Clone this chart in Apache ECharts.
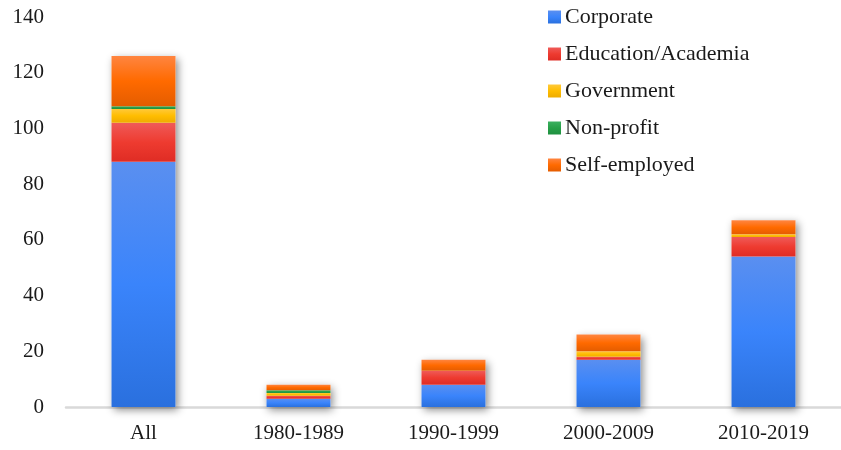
<!DOCTYPE html>
<html>
<head>
<meta charset="utf-8">
<script src="https://cdn.jsdelivr.net/npm/echarts@6/dist/echarts.min.js"></script>
<style>
html,body{margin:0;padding:0;background:#fff;}
#chart{width:841px;height:450px;}
</style>
</head>
<body>
<div id="chart"></div>
<script>
var categories=["All","1980-1989","1990-1999","2000-2009","2010-2019"];
var corporate=[88,3,8,17,54];
var education=[14,1,5,1,7];
var government=[5,1,0,2,1];
var nonprofit=[1,1,0,0,0];
var selfEmployed=[18,2,4,6,5];
var yTicks=[0,20,40,60,80,100,120,140];

var totals=categories.map(function(c,i){
    return corporate[i]+education[i]+government[i]+nonprofit[i]+selfEmployed[i];
});

var grad=function(top,mid,bottom){
    return new echarts.graphic.LinearGradient(0,0,0,1,[
        {offset:0,color:top},{offset:0.5,color:mid},{offset:1,color:bottom}
    ]);
};
var font="'Liberation Serif', 'DejaVu Serif', serif";

var chart=echarts.init(document.getElementById("chart"));
var mk=function(name,data,color){
    return {
        name:name,
        type:"bar",
        stack:"total",
        barWidth:64,
        z:3,
        data:data,
        itemStyle:{color:color}
    };
};
var option={
    animation:false,
    textStyle:{fontFamily:font},
    legend:{
        orient:"vertical",
        left:543,
        top:1,
        itemWidth:13,
        itemHeight:13,
        itemGap:15,
        icon:"rect",
        data:["Corporate","Education/Academia","Government","Non-profit","Self-employed"],
        textStyle:{fontFamily:font,fontSize:22,color:"#1a1a1a",padding:[0,0,0,-1]}
    },
    grid:{left:66,width:781,top:17,bottom:43,containLabel:false},
    xAxis:{
        type:"category",
        data:categories,
        axisLine:{lineStyle:{color:"#d9d9d9",width:2.5}},
        axisTick:{show:false},
        axisLabel:{fontFamily:font,fontSize:21,color:"#1a1a1a",margin:16}
    },
    yAxis:{
        type:"value",
        min:0,max:140,interval:20,
        axisLine:{show:false},
        axisTick:{show:false},
        splitLine:{show:false},
        axisLabel:{fontFamily:font,fontSize:21,color:"#1a1a1a",margin:22,
            formatter:function(v){return yTicks.indexOf(v)>=0?String(v):"";}}
    },
    series:[
        {
            name:"shadow",
            type:"bar",
            barWidth:64,
            barGap:"-100%",
            z:1,
            silent:true,
            data:totals,
            itemStyle:{color:"#ffffff",shadowBlur:8,shadowColor:"rgba(0,0,0,0.45)",shadowOffsetX:2,shadowOffsetY:3}
        },
        mk("Corporate",corporate,grad("#5a8ff0","#3a84fb","#2a70de")),
        mk("Education/Academia",education,grad("#ef5a58","#ee3b30","#df2c24")),
        mk("Government",government,grad("#ffc93a","#ffbd00","#eeac00")),
        mk("Non-profit",nonprofit,grad("#3cb060","#27a048","#1f9040")),
        mk("Self-employed",selfEmployed,grad("#ff8540","#ff6a00","#e45c00"))
    ]
};
chart.setOption(option);
</script>
</body>
</html>
